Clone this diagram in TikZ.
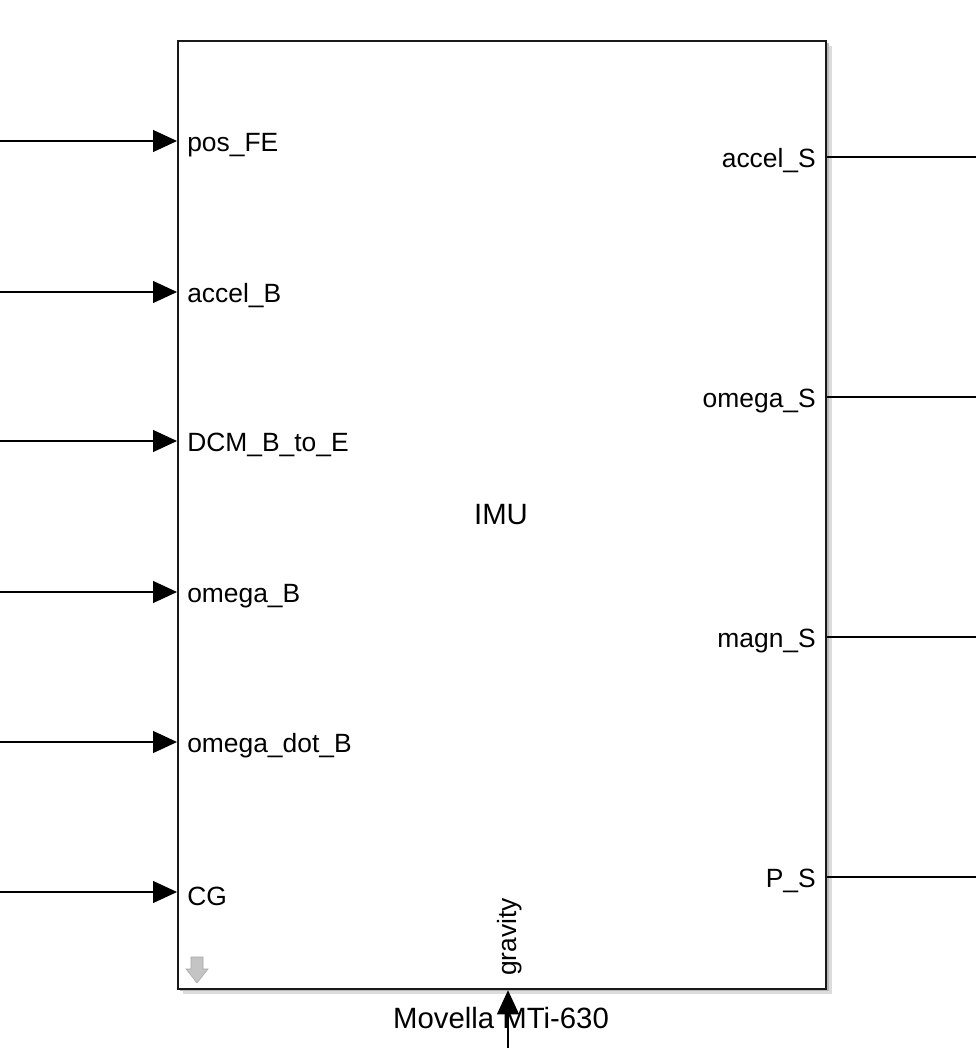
\documentclass[tikz,border=0pt]{standalone}
\usepackage{fontspec}
\setmainfont{Liberation Sans}
\usetikzlibrary{arrows.meta, positioning}
\definecolor{shadowgray}{HTML}{9A9A9A}
\definecolor{icongray}{HTML}{C4C4C4}
\tikzset{
  blockbox/.style={draw=black!90,line width=1.7pt,fill=white},
  inport/.style={anchor=west,inner sep=0pt,font=\fontsize{19.8}{22}\selectfont},
  outport/.style={anchor=east,inner sep=0pt,font=\fontsize{19.8}{22}\selectfont},
  blkname/.style={inner sep=0pt,font=\fontsize{22}{26}\selectfont},
  sigline/.style={-{Triangle[length=18pt,width=16.5pt]},line width=0.8pt,black},
  outline/.style={line width=0.8pt,black},
}
\begin{document}
\begin{tikzpicture}[x=0.75pt,y=-0.75pt]
  \useasboundingbox (0,0) rectangle (976,1048);
  % block with shadow
  \fill[shadowgray!35] (183,46) rectangle (832,994);
  \fill[shadowgray!70] (180,43) rectangle (829,991);
  \node[blockbox,minimum width=486pt,minimum height=711pt,anchor=north west,inner sep=0pt] (imu) at (177,40) {};
  \node[blkname] (imuname) at (501,515) {IMU};
  % input ports
  \node[inport] (pPosFE) at (187,145) {pos\_FE};
  \node[inport] (pAccelB) at (187,296) {accel\_B};
  \node[inport] (pDCM) at (187,445) {DCM\_B\_to\_E};
  \node[inport] (pOmegaB) at (187,596) {omega\_B};
  \node[inport] (pOmegaDot) at (187,746) {omega\_dot\_B};
  \node[inport] (pCG) at (187,896) {CG};
  % output ports
  \node[outport] (pAccelS) at (816,161) {accel\_S};
  \node[outport] (pOmegaS) at (816,401) {omega\_S};
  \node[outport] (pMagnS) at (816,641) {magn\_S};
  \node[outport] (pPS) at (816,881) {P\_S};
  % gravity port
  \node[inport,rotate=90] (pGrav) at (510,976) {gravity};
  \node[blkname] (title) at (501,1018) {Movella MTi-630};
  % sample-time icon
  \filldraw[fill=icongray,draw=gray!70,line width=0.4pt] (191,957) -- (203,957) -- (203,969) -- (208,969) -- (197,983) -- (186,969) -- (191,969) -- cycle;
  % connector ends
  \coordinate (inPosFE) at (0,141);
  \coordinate (inAccelB) at (0,292);
  \coordinate (inDCM) at (0,441);
  \coordinate (inOmegaB) at (0,592);
  \coordinate (inOmegaDot) at (0,742);
  \coordinate (inCG) at (0,892);
  \coordinate (outAccelS) at (976,157);
  \coordinate (outOmegaS) at (976,397);
  \coordinate (outMagnS) at (976,637);
  \coordinate (outPS) at (976,877);
  \coordinate (inGrav) at (508,1048);
  % signals
  \draw[sigline] (inPosFE) -- (inPosFE -| imu.west);
  \draw[sigline] (inAccelB) -- (inAccelB -| imu.west);
  \draw[sigline] (inDCM) -- (inDCM -| imu.west);
  \draw[sigline] (inOmegaB) -- (inOmegaB -| imu.west);
  \draw[sigline] (inOmegaDot) -- (inOmegaDot -| imu.west);
  \draw[sigline] (inCG) -- (inCG -| imu.west);
  \draw[outline] (outAccelS -| imu.east) -- (outAccelS);
  \draw[outline] (outOmegaS -| imu.east) -- (outOmegaS);
  \draw[outline] (outMagnS -| imu.east) -- (outMagnS);
  \draw[outline] (outPS -| imu.east) -- (outPS);
  \draw[sigline] (inGrav) -- (inGrav |- imu.south);
\end{tikzpicture}
\end{document}
